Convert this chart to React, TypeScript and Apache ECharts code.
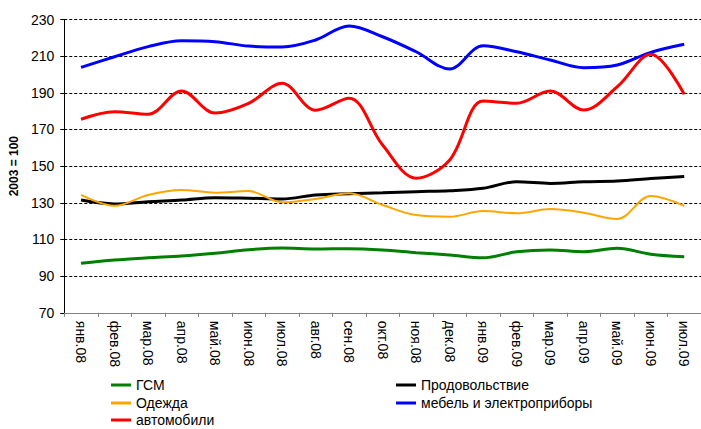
import React, { useEffect, useRef } from "react";
import * as echarts from "echarts";

const categories = [
  "янв.08", "фев.08", "мар.08", "апр.08", "май.08", "июн.08", "июл.08", "авг.08", "сен.08",
  "окт.08", "ноя.08", "дек.08", "янв.09", "фев.09", "мар.09", "апр.09", "май.09", "июн.09", "июл.09",
];

const gsm = [97, 98.8, 100, 101, 102.5, 104.4, 105.3, 104.8, 105, 104.3, 102.8, 101.5, 100, 103.3, 104.3, 103.3, 105.2, 102, 100.6];
const food = [131.5, 129.4, 130.6, 131.5, 132.8, 132.5, 132.1, 134.3, 135, 135.5, 136.1, 136.6, 137.9, 141.5, 140.6, 141.5, 141.9, 143.2, 144.4];
const clothes = [134.3, 128.4, 134.3, 137, 135.5, 136.4, 130.3, 132.1, 135.2, 128.8, 123.3, 122.4, 125.5, 124.3, 126.6, 124.6, 121.2, 133.7, 128.3];
const furniture = [203.9, 209.7, 215.2, 218.4, 217.9, 215.5, 215, 218.8, 226.5, 220.6, 212.4, 203, 215.7, 212.4, 207.9, 203.7, 205.2, 212.1, 216.5];
const cars = [175.6, 179.7, 178.3, 191, 179, 184.3, 195.2, 180.5, 187, 161.5, 143.4, 153.4, 185.5, 184.3, 191, 180.6, 193.3, 211, 189.2];

const yTicks = { min: 70, max: 230, interval: 20 };
const yName = "2003 = 100";

const FONT = "'Liberation Sans', Arial, sans-serif";

export default function App() {
  const ref = useRef<HTMLDivElement>(null);
  useEffect(() => {
    if (!ref.current) return;
    const chart = echarts.init(ref.current, null, { renderer: "svg" });
    const mk = (name: string, data: number[], color: string, width: number) => ({
      name,
      type: "line",
      data,
      smooth: 0.35,
      symbol: "none",
      lineStyle: { color, width },
      itemStyle: { color },
    });
    const leg = (name: string, left: number, top: number) => ({
      data: [name],
      left,
      top,
      padding: 0,
      icon: "rect",
      itemWidth: 20,
      itemHeight: 3,
      textStyle: { fontFamily: FONT, fontSize: 14, color: "#000" },
    });
    chart.setOption({
      animation: false,
      textStyle: { fontFamily: FONT, color: "#000" },
      grid: { left: 62.5, top: 19.5, width: 641, height: 293.3, containLabel: false },
      legend: [
        leg("ГСМ", 111, 378),
        leg("Одежда", 111, 396),
        leg("автомобили", 111, 413),
        leg("Продовольствие", 396, 378),
        leg("мебель и электроприборы", 396, 396),
      ],
      xAxis: {
        type: "category",
        data: categories,
        boundaryGap: true,
        axisLine: { lineStyle: { color: "#808080", width: 1 } },
        axisTick: { show: true, length: 4, lineStyle: { color: "#808080" } },
        axisLabel: { rotate: -90, fontSize: 14, margin: 8, color: "#000", fontFamily: FONT, interval: 0 },
        splitLine: { show: false },
      },
      yAxis: {
        type: "value",
        min: yTicks.min,
        max: yTicks.max,
        interval: yTicks.interval,
        name: yName,
        nameLocation: "middle",
        nameRotate: 90,
        nameGap: 40,
        nameTextStyle: { fontFamily: FONT, fontSize: 12, fontWeight: "bold", color: "#000" },
        axisLine: { show: true, lineStyle: { color: "#000", width: 1 } },
        axisTick: { show: true, length: 4, lineStyle: { color: "#000" } },
        axisLabel: { fontSize: 14, margin: 10, color: "#000", fontFamily: FONT },
        splitLine: { show: true, lineStyle: { color: "#000", type: [3, 2], width: 1 } },
      },
      series: [
        mk("ГСМ", gsm, "#008000", 3),
        mk("Продовольствие", food, "#000000", 3),
        mk("Одежда", clothes, "#FFA500", 2),
        mk("мебель и электроприборы", furniture, "#0000FF", 3),
        mk("автомобили", cars, "#FF0000", 3),
      ],
    });
    return () => chart.dispose();
  }, []);
  return (
    <div
      ref={ref}
      style={{ position: "absolute", left: 0, top: 0, width: 701, height: 429, background: "#fff" }}
    />
  );
}
